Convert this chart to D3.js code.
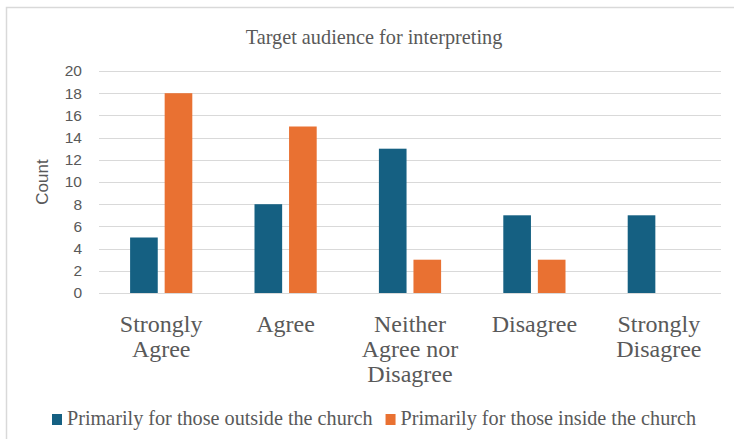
<!DOCTYPE html>
<html>
<head>
<meta charset="utf-8">
<script src="https://cdn.jsdelivr.net/npm/d3@7"></script>
<style>
  html, body { margin: 0; padding: 0; background: #fff; }
  svg { display: block; }
</style>
</head>
<body>
<svg id="chart" width="734" height="439"></svg>
<script>
// Survey responses, counted by answer
const categories = ["Strongly Agree", "Agree", "Neither Agree nor Disagree", "Disagree", "Strongly Disagree"];
const categoryLines = [["Strongly", "Agree"], ["Agree"], ["Neither", "Agree nor", "Disagree"], ["Disagree"], ["Strongly", "Disagree"]];
const seriesNames = ["Primarily for those outside the church", "Primarily for those inside the church"];
const outsideValues = [5, 8, 13, 7, 7];
const insideValues = [18, 15, 3, 3, 0];
const yTicks = [0, 2, 4, 6, 8, 10, 12, 14, 16, 18, 20];
const colors = ["#156082", "#E97132"];

const svg = d3.select("#chart");
const serif = "'Liberation Serif', 'Times New Roman', serif";
const sans = "'Liberation Sans', Arial, sans-serif";
const textColor = "#595959";
const gridColor = "#d9d9d9";

// chart frame
svg.append("rect")
  .attr("x", 6.5).attr("y", 7.5)
  .attr("width", 760).attr("height", 470)
  .attr("fill", "#fff")
  .attr("stroke", gridColor).attr("stroke-width", 1.5);

svg.append("text")
  .attr("x", 374).attr("y", 44)
  .attr("text-anchor", "middle")
  .attr("font-family", serif).attr("font-size", 20.3)
  .attr("fill", textColor)
  .text("Target audience for interpreting");

const plotLeft = 99, plotRight = 721, plotTop = 71, plotBottom = 293;

const y = d3.scaleLinear().domain([0, 20]).range([plotBottom, plotTop]);
const x = d3.scaleBand().domain(categories).range([plotLeft, plotRight])
  .paddingInner(0.5).paddingOuter(0.25);
const xs = d3.scaleBand().domain(seriesNames).range([0, x.bandwidth()])
  .paddingInner(0.2).paddingOuter(0);

// horizontal gridlines
svg.append("g").selectAll("line").data(yTicks).join("line")
  .attr("x1", plotLeft).attr("x2", plotRight)
  .attr("y1", d => Math.round(y(d)) + 0.5).attr("y2", d => Math.round(y(d)) + 0.5)
  .attr("stroke", gridColor).attr("stroke-width", 1);

// y axis labels
const yAxis = svg.append("g")
  .attr("transform", `translate(${plotLeft - 17},0)`)
  .call(d3.axisLeft(y).tickValues(yTicks).tickSize(0).tickPadding(0));
yAxis.select(".domain").remove();
yAxis.selectAll("text")
  .attr("font-family", sans).attr("font-size", 15.5)
  .attr("fill", textColor);

svg.append("text")
  .attr("transform", `translate(48,${(plotTop + plotBottom) / 2}) rotate(-90)`)
  .attr("text-anchor", "middle")
  .attr("font-family", sans).attr("font-size", 17)
  .attr("fill", textColor)
  .text("Count");

// bars
const rows = categories.map((c, i) => ({
  category: c,
  values: [
    { series: seriesNames[0], value: outsideValues[i], color: colors[0] },
    { series: seriesNames[1], value: insideValues[i], color: colors[1] }
  ]
}));

svg.append("g").selectAll("g").data(rows).join("g")
  .attr("transform", d => `translate(${x(d.category)},0)`)
  .selectAll("rect").data(d => d.values.filter(v => v.value > 0)).join("rect")
  .attr("x", d => xs(d.series))
  .attr("y", d => y(d.value))
  .attr("width", xs.bandwidth())
  .attr("height", d => y(0) - y(d.value))
  .attr("fill", d => d.color);

// category labels
const catG = svg.append("g").selectAll("text").data(categories).join("text")
  .attr("x", d => x(d) + x.bandwidth() / 2)
  .attr("y", 332)
  .attr("text-anchor", "middle")
  .attr("font-family", serif).attr("font-size", 24)
  .attr("fill", textColor);
catG.each(function(d, i) {
  d3.select(this).selectAll("tspan").data(categoryLines[i]).join("tspan")
    .attr("x", x(d) + x.bandwidth() / 2)
    .attr("dy", (l, j) => j === 0 ? 0 : 25)
    .text(l => l);
});

// legend
const legend = svg.append("g");
let lx = 52;
seriesNames.forEach((name, i) => {
  legend.append("rect")
    .attr("x", lx).attr("y", 414)
    .attr("width", 10).attr("height", 11)
    .attr("fill", colors[i]);
  const t = legend.append("text")
    .attr("x", lx + 15).attr("y", 425)
    .attr("font-family", serif).attr("font-size", 20.2)
    .attr("fill", textColor)
    .text(name);
  lx += 15 + t.node().getComputedTextLength() + 13;
});
</script>
</body>
</html>
